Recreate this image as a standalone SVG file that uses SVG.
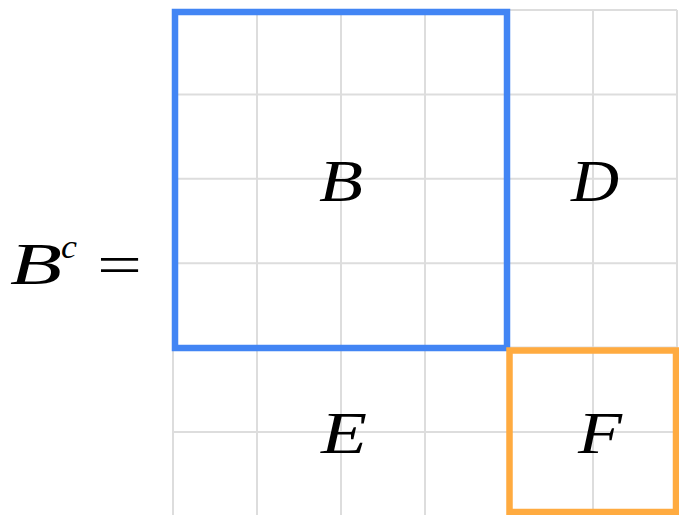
<svg xmlns="http://www.w3.org/2000/svg" width="679" height="515" viewBox="0 0 679 515">
<style>
.g{stroke:#dddddd;stroke-width:2;fill:none}
.t{font-family:"Liberation Serif","DejaVu Serif",serif;font-style:italic;font-size:59px;fill:#000;text-anchor:middle}
</style>
<rect width="679" height="515" fill="#fff"/>
<g id="grid">
<path class="g" d="M173 10V515M257 10V515M341 10V515M425 10V515M509 10V515M593 10V515M677 10V515"/>
<path class="g" d="M173 10H677M173 94.4H677M173 178.8H677M173 263.2H677M173 347.6H677M173 432H677"/>
</g>
<g id="B">
<rect x="175" y="12" width="332" height="336" fill="none" stroke="#4285f4" stroke-width="6.5"/>
<text class="t" x="341" y="201" textLength="44" lengthAdjust="spacingAndGlyphs">B</text>
</g>
<g id="D"><text class="t" x="595" y="201" textLength="48" lengthAdjust="spacingAndGlyphs">D</text></g>
<g id="E"><text class="t" x="344" y="453" textLength="46" lengthAdjust="spacingAndGlyphs">E</text></g>
<g id="F">
<rect x="509.5" y="350.5" width="166.5" height="161.5" fill="none" stroke="#ffab40" stroke-width="6.5"/>
<text class="t" x="600" y="453" textLength="44" lengthAdjust="spacingAndGlyphs">F</text>
</g>
<g id="label">
<text font-family="Liberation Serif,DejaVu Serif,serif" font-style="italic" font-size="59" x="10" y="284" textLength="52" lengthAdjust="spacingAndGlyphs">B</text>
<text font-family="Liberation Serif,DejaVu Serif,serif" font-style="italic" font-size="34" x="61" y="258" textLength="16" lengthAdjust="spacingAndGlyphs">c</text>
<text font-family="Liberation Serif,DejaVu Serif,serif" font-size="56" x="97" y="284" textLength="45" lengthAdjust="spacingAndGlyphs">=</text>
</g>
</svg>
